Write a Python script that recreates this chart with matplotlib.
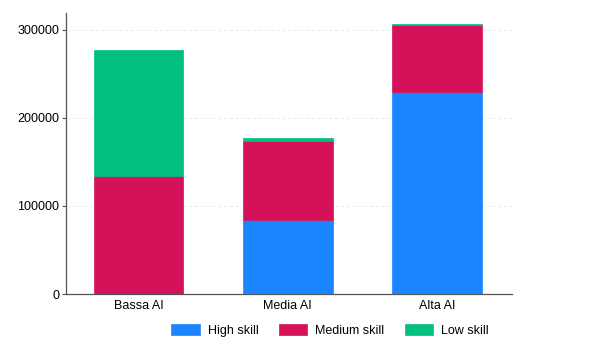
import matplotlib
matplotlib.use("Agg")
import matplotlib.pyplot as plt
import numpy as np

categories = ["Bassa AI", "Media AI", "Alta AI"]
high_skill = [0, 84000, 229000]
medium_skill = [134000, 90000, 76500]
low_skill = [143000, 3000, 1300]
series_names = ["High skill", "Medium skill", "Low skill"]
colors = ["#1a85ff", "#d41159", "#00bf7f"]

plt.rcParams['font.family'] = ['Liberation Sans', 'DejaVu Sans']

fig = plt.figure(figsize=(6.0, 3.59), dpi=100)
ax = fig.add_axes([0.11, 0.181, 0.743, 0.783])

x = np.arange(len(categories))
w = 0.6
bottom = np.zeros(len(categories))
handles = []
for vals, name, c in zip([high_skill, medium_skill, low_skill], series_names, colors):
    v = np.array(vals, dtype=float)
    b = ax.bar(x, v, w, bottom=bottom, color=c, label=name, edgecolor=c, linewidth=0.5, zorder=3)
    handles.append(b)
    bottom += v

ax.set_xlim(-0.485, 2.5)
ax.set_ylim(0, 319300)
ax.set_yticks([0, 100000, 200000, 300000])
ax.set_yticklabels(["0", "100000", "200000", "300000"])
ax.set_xticks(x)
ax.set_xticklabels(categories)
ax.tick_params(axis='y', labelsize=9, length=3, color='#555555', width=0.8, pad=2)
ax.tick_params(axis='x', labelsize=9, length=0, pad=4)
ax.yaxis.grid(True, color='#e6e6e6', linestyle=(0, (4, 3)), linewidth=0.6, zorder=0)
for s in ['top', 'right']:
    ax.spines[s].set_visible(False)
for s in ['left', 'bottom']:
    ax.spines[s].set_color('#555555')
    ax.spines[s].set_linewidth(0.9)

fig.legend(handles=handles, labels=series_names, loc='center', bbox_to_anchor=(0.55, 0.08),
           ncol=3, frameon=False, fontsize=9, handlelength=2.3, handleheight=1.0,
           columnspacing=1.6, handletextpad=0.65)

fig.savefig("out.png", dpi=100, facecolor='white')
